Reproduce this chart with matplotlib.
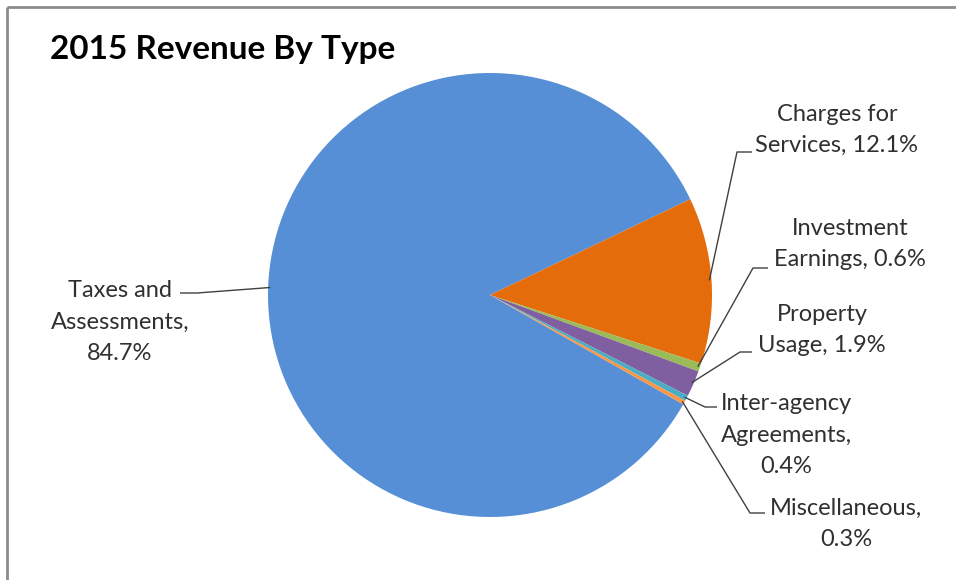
import matplotlib
matplotlib.use("Agg")
import matplotlib.pyplot as plt
import numpy as np

categories = ["Taxes and Assessments", "Charges for Services", "Investment Earnings",
              "Property Usage", "Inter-agency Agreements", "Miscellaneous"]
values = [84.7, 12.1, 0.6, 1.9, 0.4, 0.3]
colors = ["#568FD6", "#E46C0A", "#9BBB59", "#7F5FA0", "#4BACC6", "#F79646"]
label_texts = ["Taxes and\nAssessments,\n84.7%", "Charges for\nServices, 12.1%",
               "Investment\nEarnings, 0.6%", "Property\nUsage, 1.9%",
               "Inter-agency\nAgreements,\n0.4%", "Miscellaneous,\n0.3%"]

W, H = 956, 580
fig = plt.figure(figsize=(W / 100, H / 100), dpi=100)
ax = fig.add_axes([0, 0, 1, 1])

cx, cy, R = 490, H - 295, 222
start = -29.5
wedges, _ = ax.pie(values, colors=colors, startangle=start, counterclock=False,
                   center=(cx, cy), radius=R, frame=True,
                   wedgeprops=dict(linewidth=0))
ax.set_xlim(0, W)
ax.set_ylim(0, H)
ax.set_aspect("equal")
ax.axis("off")

# label layout: (text x, text y, elbow x, elbow y, stub end x)
layout = [
    (120, 322, 197, 293, 180),
    (837, 130, 737, 152, 752),
    (850, 244, 753, 268, 768),
    (822, 330, 740, 352, 752),
    (786, 435, 705, 407, 717),
    (846, 524, 750, 513, 765),
]

for w, txt, (tx, ty, ex, ey, sx) in zip(wedges, label_texts, layout):
    mid = np.deg2rad((w.theta1 + w.theta2) / 2)
    axp = cx + R * 0.99 * np.cos(mid)
    ayp = cy + R * 0.99 * np.sin(mid)
    ax.plot([axp, ex, sx], [ayp, H - ey, H - ey], color="#404040", lw=1.0,
            solid_capstyle="butt", zorder=5)
    ax.text(tx, H - ty, txt, ha="center", va="center", fontsize=17, family="Lato",
            color="#303030", linespacing=1.62, zorder=6)

ax.text(50, H - 50, "2015 Revenue By Type", ha="left", va="center",
        fontsize=24, fontweight="bold", family="Lato", color="black")

# chart frame (top and left visible)
ax.plot([7, 7], [0, H - 7], color="#8C8C8C", lw=2, solid_capstyle="butt", zorder=7)
ax.plot([7, W], [H - 7, H - 7], color="#8C8C8C", lw=2, solid_capstyle="butt", zorder=7)

fig.savefig("out.png", dpi=100)
